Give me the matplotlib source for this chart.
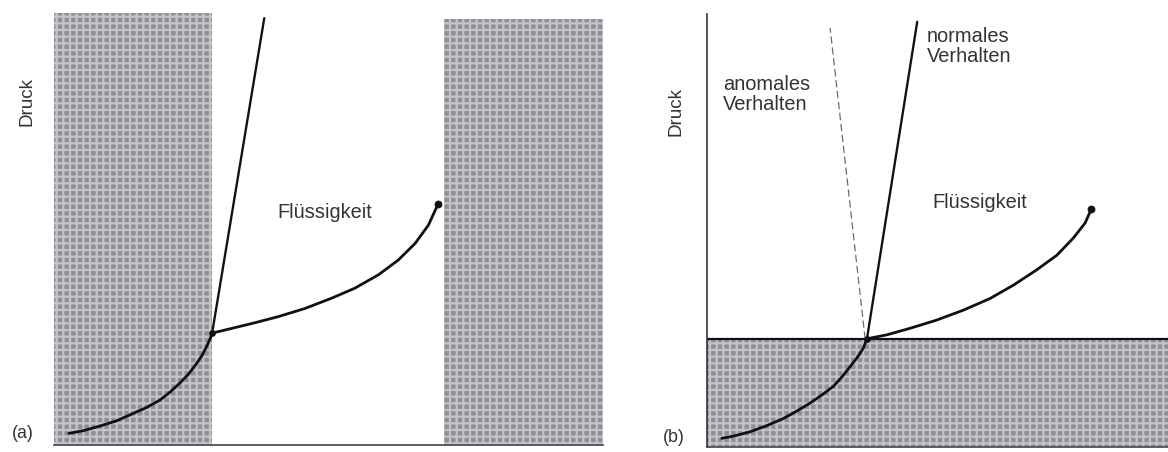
#!/usr/bin/env python
# coding: utf-8

# Phasendiagramm: (a) normal, (b) mit anomalem Verhalten

import matplotlib.pyplot as plt
import numpy as np

plt.rcParams['font.family'] = ['Liberation Sans', 'DejaVu Sans']
plt.rcParams['hatch.linewidth'] = 2.0
plt.rcParams['hatch.color'] = '#c3c3ca'

# --- data (a): temperature / pressure in arbitrary units 0..100
a_subl_T = [2.7, 5.3, 8.4, 11.4, 14.4, 16.9, 19.3, 21.1, 22.9, 24.5, 26.0, 27.0, 27.8, 28.4, 28.8]
a_subl_P = [2.7, 3.3, 4.4, 5.6, 7.3, 8.7, 10.4, 12.2, 14.3, 16.4, 18.9, 20.8, 22.8, 24.5, 25.9]
a_vap_T = [28.8, 32.4, 36.6, 40.8, 45.7, 50.6, 54.8, 59.1, 62.7, 65.8, 68.2, 70.0]
a_vap_P = [25.9, 27.0, 28.3, 29.7, 31.6, 34.0, 36.3, 39.4, 42.8, 46.7, 50.9, 55.9]
a_melt_T = [28.8, 38.3]
a_melt_P = [25.9, 98.8]
a_solid_T = [0, 28.8]        # shaded band left
a_super_T = [71.0, 100]      # shaded band right
a_super_Ptop = 98.6

# --- data (b)
b_subl_T = [3.2, 5.7, 9.3, 12.9, 16.6, 19.5, 22.3, 24.9, 27.4, 29.2, 31.0, 32.6, 33.9, 34.7]
b_subl_P = [2.0, 2.5, 3.5, 4.9, 6.6, 8.3, 10.1, 12.0, 14.0, 16.1, 18.5, 20.7, 22.8, 25.0]
b_vap_T = [34.7, 39.0, 44.0, 49.8, 55.6, 61.4, 66.5, 71.5, 75.9, 79.5, 82.0, 83.4]
b_vap_P = [25.0, 25.9, 27.4, 29.3, 31.6, 34.3, 37.4, 40.9, 44.3, 48.3, 51.7, 55.0]
b_norm_T = [34.7, 45.6]
b_norm_P = [25.0, 98.2]
b_anom_T = [34.3, 26.7]
b_anom_P = [25.0, 96.8]
b_solid_Ptop = 25.0

face = '#8e8e95'
hatchc = '#c3c3ca'
linec = '#111111'
textc = '#333333'
fs = 18
lw = 2.5

W, H = 1168, 452
fig = plt.figure(figsize=(W/80, H/80), dpi=80)
fig.patch.set_facecolor('white')

axa = fig.add_axes([54/W, (H-445)/H, 549/W, 432/H])
axb = fig.add_axes([707/W, (H-447)/H, 461/W, 433/H])

for ax in (axa, axb):
    ax.set_xlim(0, 100)
    ax.set_ylim(0, 100)
    ax.set_xticks([])
    ax.set_yticks([])
    for s in ['top', 'right']:
        ax.spines[s].set_visible(False)

# panel (a)
axa.fill_between(a_solid_T, 0, 100, facecolor=face, hatch='++', edgecolor=hatchc, lw=0)
axa.fill_between(a_super_T, 0, a_super_Ptop, facecolor=face, hatch='++', edgecolor=hatchc, lw=0)
axa.spines['left'].set_visible(False)
axa.spines['bottom'].set_color('#444')
axa.spines['bottom'].set_linewidth(1.5)

axa.plot(a_subl_T, a_subl_P, color=linec, lw=lw, solid_capstyle='round', solid_joinstyle='round')
axa.plot(a_vap_T, a_vap_P, color=linec, lw=lw, solid_capstyle='round', solid_joinstyle='round')
axa.plot(a_melt_T, a_melt_P, color=linec, lw=2.1, solid_capstyle='round')
axa.plot(a_vap_T[0], a_vap_P[0], 'o', color=linec, ms=5)
axa.plot(a_vap_T[-1], a_vap_P[-1], 'o', color=linec, ms=6)
axa.text(40.6, 53.9, 'Flüssigkeit', fontsize=fs, color=textc, va='center', ha='left')

# panel (b)
axb.fill_between([0, 100], 0, b_solid_Ptop, facecolor=face, hatch='++', edgecolor=hatchc, lw=0)
axb.axhline(b_solid_Ptop, color=linec, lw=2.0)
axb.spines['left'].set_color('#333')
axb.spines['left'].set_linewidth(1.5)
axb.spines['bottom'].set_color('#444')
axb.spines['bottom'].set_linewidth(1.5)

axb.plot(b_subl_T, b_subl_P, color=linec, lw=lw, solid_capstyle='round', solid_joinstyle='round')
axb.plot(b_vap_T, b_vap_P, color=linec, lw=lw, solid_capstyle='round', solid_joinstyle='round')
axb.plot(b_norm_T, b_norm_P, color=linec, lw=2.1, solid_capstyle='round')
axb.plot(b_anom_T, b_anom_P, color='#6a6a6a', lw=1.1, dashes=(6, 3))
axb.plot(b_vap_T[0], b_vap_P[0], 'o', color=linec, ms=5)
axb.plot(b_vap_T[-1], b_vap_P[-1], 'o', color=linec, ms=6)
axb.text(48.8, 56.4, 'Flüssigkeit', fontsize=fs, color=textc, va='center', ha='left')
axb.text(3.5, 86.0, 'anomales\nVerhalten', fontsize=fs, color=textc, va='top', ha='left',
         linespacing=1.1)
axb.text(47.7, 97.0, 'normales\nVerhalten', fontsize=fs, color=textc, va='top', ha='left',
         linespacing=1.1)

# outer labels
fig.text(27/W, 1-101/H, 'Druck', rotation=90, fontsize=fs-1, color=textc, ha='center', va='center')
fig.text(676/W, 1-112/H, 'Druck', rotation=90, fontsize=fs-1, color=textc, ha='center', va='center')
fig.text(23/W, 1-433/H, '(a)', fontsize=fs-2, color=textc, ha='center', va='center')
fig.text(674/W, 1-437/H, '(b)', fontsize=fs-2, color=textc, ha='center', va='center')

plt.savefig('out.png', dpi=80, facecolor='white')
